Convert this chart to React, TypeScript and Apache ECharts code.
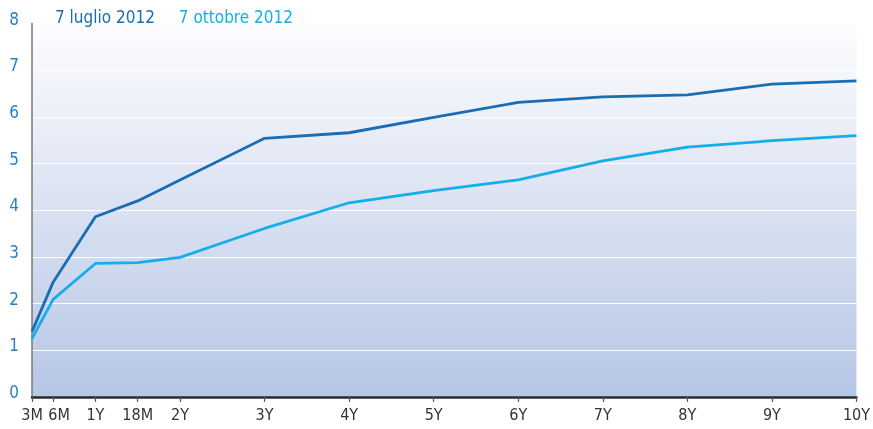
import React, { useEffect, useRef } from "react";
import * as echarts from "echarts";

const maturities = [0.25, 0.5, 1, 1.5, 2, 3, 4, 5, 6, 7, 8, 9, 10];
const tickLabels = ["3M", "6M", "1Y", "18M", "2Y", "3Y", "4Y", "5Y", "6Y", "7Y", "8Y", "9Y", "10Y"];
const luglio = [1.4, 2.46, 3.86, 4.2, 4.65, 5.54, 5.66, 5.99, 6.31, 6.43, 6.47, 6.7, 6.77];
const ottobre = [1.25, 2.09, 2.86, 2.88, 2.99, 3.61, 4.16, 4.42, 4.65, 5.06, 5.35, 5.49, 5.6];
const seriesNames = ["7 luglio 2012", "7 ottobre 2012"];
const seriesColors = ["#1a6db3", "#14aee8"];

const FONT = "'DejaVu Sans Condensed', 'DejaVu Sans', sans-serif";

export default function App() {
  const ref = useRef<HTMLDivElement>(null);
  useEffect(() => {
    if (!ref.current) return;
    const chart = echarts.init(ref.current, null, { renderer: "svg" });
    const pairs = (vals: number[]) => maturities.map((m, i) => [m, vals[i]]);
    chart.setOption({
      animation: false,
      legend: {
        left: 45,
        top: 3,
        itemWidth: 0,
        itemHeight: 0,
        itemGap: 19,
        selectedMode: false,
        data: seriesNames.map((n, i) => ({
          name: n,
          icon: "rect",
          textStyle: { color: seriesColors[i], fontSize: 17, fontFamily: FONT },
        })),
      },
      grid: {
        left: 32,
        right: 15,
        top: 23.5,
        bottom: 32,
        show: true,
        borderWidth: 0,
        backgroundColor: new echarts.graphic.LinearGradient(0, 0, 0, 1, [
          { offset: 0, color: "#fdfdfe" },
          { offset: 1, color: "#b6c6e6" },
        ]),
      },
      xAxis: {
        type: "value",
        min: 0.25,
        max: 10,
        splitLine: { show: false },
        axisLine: { show: true, onZero: false, lineStyle: { color: "#2b2b2b", width: 2.5 } },
        axisTick: {
          show: true,
          length: 5,
          customValues: maturities,
          lineStyle: { color: "#555", width: 1.2 },
        },
        axisLabel: {
          customValues: maturities,
          margin: 9,
          fontSize: 16,
          fontFamily: FONT,
          color: "#333",
          formatter: (v: number) => {
            const i = maturities.findIndex((m) => Math.abs(m - v) < 1e-6);
            if (i < 0) return "";
            if (tickLabels[i] === "6M") return "{s|6M}";
            return tickLabels[i];
          },
          rich: {
            s: { padding: [0, 0, 0, 12], fontSize: 16, fontFamily: FONT, color: "#333" },
          },
        },
      },
      yAxis: {
        type: "value",
        min: 0,
        max: 8,
        interval: 1,
        axisLine: { show: true, lineStyle: { color: "#777", width: 1.5 } },
        axisTick: { show: false },
        splitLine: { show: true, lineStyle: { color: "#ffffff", width: 1.2 } },
        axisLabel: {
          margin: 13,
          fontSize: 17,
          fontFamily: FONT,
          color: "#2a7fc4",
          formatter: "{a|{value}}",
          rich: {
            a: {
              fontSize: 17,
              lineHeight: 17,
              fontFamily: FONT,
              color: "#2a7fc4",
              padding: [0, 0, 10, 0],
            },
          },
        },
      },
      series: [
        {
          name: seriesNames[0],
          type: "line",
          data: pairs(luglio),
          symbol: "none",
          lineStyle: { color: seriesColors[0], width: 2.8 },
          itemStyle: { color: seriesColors[0] },
        },
        {
          name: seriesNames[1],
          type: "line",
          data: pairs(ottobre),
          symbol: "none",
          lineStyle: { color: seriesColors[1], width: 2.8 },
          itemStyle: { color: seriesColors[1] },
        },
      ],
    });
    return () => chart.dispose();
  }, []);
  return (
    <div
      ref={ref}
      style={{ position: "fixed", left: 0, top: 0, width: 873, height: 429 }}
    />
  );
}
